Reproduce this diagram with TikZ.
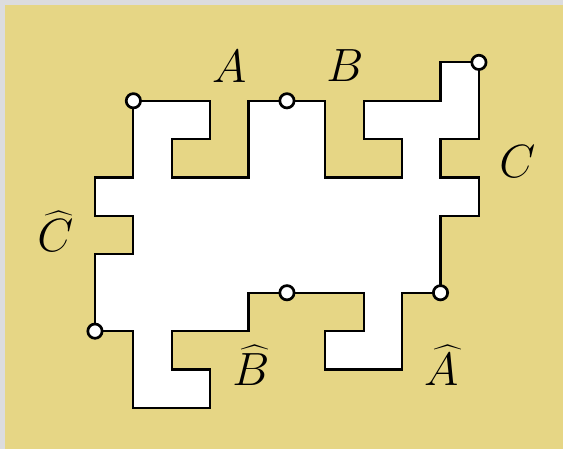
\documentclass[tikz,border=0pt]{standalone}
\definecolor{khaki}{HTML}{E6D685}
\definecolor{edgegray}{HTML}{DCDCDE}
\begin{document}
\begin{tikzpicture}[x=0.5cm,y=0.5cm,line width=0.8pt,
  lbl/.style={font=\fontsize{18}{22}\selectfont},
  dot/.style={fill=white,line width=1pt}]
  % Background
  \fill[edgegray] (-2.474,-1.068) rectangle (12.19,10.625);
  \fill[khaki] (-2.344,-1.068) rectangle (12.19,10.495);

  % Coordinates
  \coordinate (P) at (1,8);
  \coordinate (Q) at (5,8);
  \coordinate (R) at (10,9);
  \coordinate (S) at (9,3);
  \coordinate (T) at (5,3);
  \coordinate (U) at (0,2);

  % Drawing
  \draw[fill=white] (P) -- (3,8) -- (3,7) -- (2,7) -- (2,6) -- (4,6) -- (4,8)
    -- (Q) -- (6,8) -- (6,6) -- (8,6) -- (8,7) -- (7,7) -- (7,8) -- (9,8)
    -- (9,9) -- (R) -- (10,7) -- (9,7) -- (9,6) -- (10,6) -- (10,5) -- (9,5)
    -- (S) -- (8,3) -- (8,1) -- (6,1) -- (6,2) -- (7,2) -- (7,3) -- (T)
    -- (4,3) -- (4,2) -- (2,2) -- (2,1) -- (3,1) -- (3,0) -- (1,0) -- (1,2)
    -- (U) -- (0,4) -- (1,4) -- (1,5) -- (0,5) -- (0,6) -- (1,6) -- cycle;
  \draw[dot] (P) circle (2.65pt);
  \draw[dot] (Q) circle (2.65pt);
  \draw[dot] (R) circle (2.65pt);
  \draw[dot] (S) circle (2.65pt);
  \draw[dot] (T) circle (2.65pt);
  \draw[dot] (U) circle (2.65pt);

  % Labels
  \node[lbl] (a) at (3.5,8.89) {$A$};
  \node[lbl] (b) at (6.51,8.91) {$B$};
  \node[lbl] (c) at (11.0,6.42) {$C$};
  \node[lbl] (ah) at (9.02,1.1) {$\widehat{A}$};
  \node[lbl] (bh) at (4.06,1.1) {$\widehat{B}$};
  \node[lbl] (ch) at (-1.03,4.6) {$\widehat{C}$};
\end{tikzpicture}
\end{document}
